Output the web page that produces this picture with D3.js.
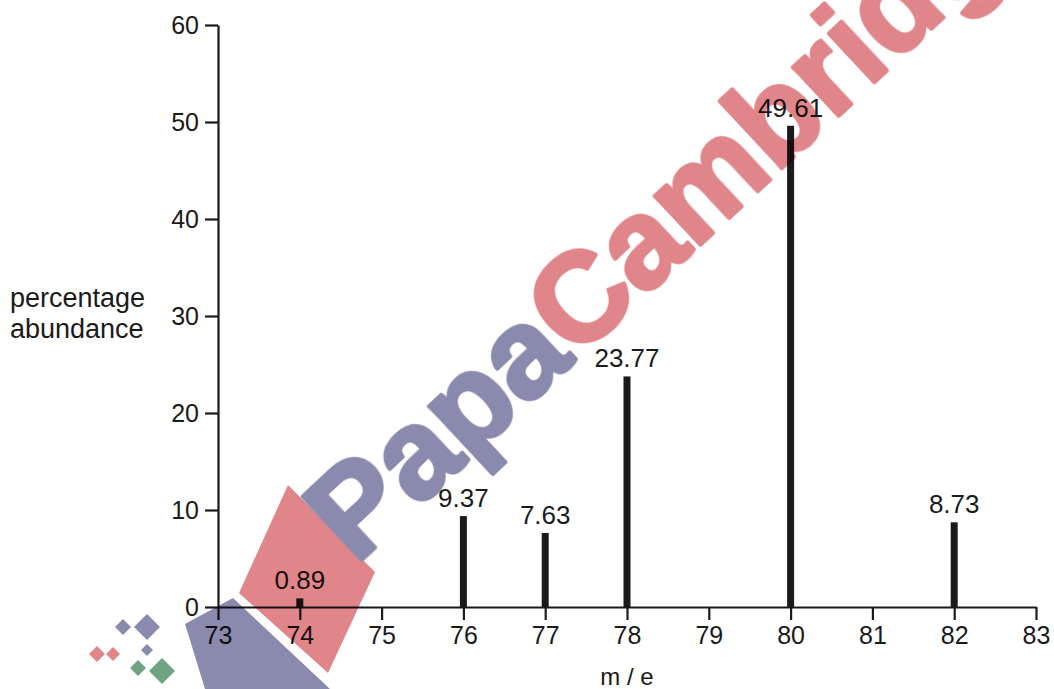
<!DOCTYPE html>
<html>
<head>
<meta charset="utf-8">
<script src="https://cdn.jsdelivr.net/npm/d3@7"></script>
<style>
  body { margin: 0; background: #fff; }
  svg { display: block; font-family: "Liberation Sans", Arial, sans-serif; }
  .axis path, .axis line { stroke: #1a1a1a; stroke-width: 2.2; }
  .axis text { fill: #1a1a1a; font-size: 25px; }
</style>
</head>
<body>
<div id="chart"></div>
<script>
// m/e values and their percentage abundance
const massNumbers = [74, 76, 77, 78, 80, 82];
const abundances = [0.89, 9.37, 7.63, 23.77, 49.61, 8.73];
const xTicks = [73, 74, 75, 76, 77, 78, 79, 80, 81, 82, 83];
const yTicks = [0, 10, 20, 30, 40, 50, 60];

const width = 1054, height = 689;
const margin = { top: 25, right: 18, bottom: 82, left: 218 };

const svg = d3.select('#chart').append('svg')
  .attr('width', width)
  .attr('height', height);

const x = d3.scaleLinear().domain([73, 83]).range([margin.left, width - margin.right]);
const y = d3.scaleLinear().domain([0, 60]).range([height - margin.bottom, margin.top]);

// axes
svg.append('g')
  .attr('class', 'axis')
  .attr('transform', `translate(0,${y(0)})`)
  .call(d3.axisBottom(x).tickValues(xTicks).tickSize(13).tickSizeOuter(0).tickPadding(6).tickFormat(d3.format('d')));

svg.append('g')
  .attr('class', 'axis')
  .attr('transform', `translate(${x(73)},0)`)
  .call(d3.axisLeft(y).tickValues(yTicks).tickSize(13).tickSizeOuter(0).tickPadding(6).tickFormat(d3.format('d')));

// the peaks
const peaks = massNumbers.map((m, i) => ({ m: m, v: abundances[i] }));

svg.selectAll('.peak')
  .data(peaks)
  .enter()
  .append('rect')
  .attr('class', 'peak')
  .attr('x', d => x(d.m) - 3.5)
  .attr('y', d => y(d.v))
  .attr('width', 7)
  .attr('height', d => y(0) - y(d.v))
  .attr('fill', '#1a1a1a');

svg.selectAll('.peak-label')
  .data(peaks)
  .enter()
  .append('text')
  .attr('class', 'peak-label')
  .attr('x', d => x(d.m))
  .attr('y', d => y(d.v) - 9)
  .attr('text-anchor', 'middle')
  .attr('fill', '#1a1a1a')
  .style('font-size', '26px')
  .text(d => d.v.toFixed(2));

// axis titles
svg.append('text')
  .attr('x', x(78))
  .attr('y', 685)
  .attr('text-anchor', 'middle')
  .attr('fill', '#1a1a1a')
  .style('font-size', '24px')
  .text('m / e');

const yTitle = svg.append('text')
  .attr('fill', '#1a1a1a')
  .style('font-size', '27px');
yTitle.append('tspan').attr('x', 10).attr('y', 307).text('percentage');
yTitle.append('tspan').attr('x', 10).attr('y', 338).text('abundance');

// watermark, multiplied over the chart
const wm = svg.append('g').style('mix-blend-mode', 'multiply');
const red = '#e0868b', blue = '#8a8aae', green = '#6fa382';

wm.append('polygon').attr('points', '288,485 375,572 328,673 239,593').attr('fill', red);
wm.append('polygon').attr('points', '233,598 330,689 205,689 190,640 185,624').attr('fill', blue);
const diamonds = [
  [123, 627, 8, blue], [147, 627, 13, blue], [147, 650, 6, blue],
  [97, 654, 8, red], [113, 654, 7, red],
  [138, 668, 8, green], [162, 671, 13, green]
];
diamonds.forEach(([cx, cy, r, c]) => {
  wm.append('polygon')
    .attr('points', `${cx},${cy - r} ${cx + r},${cy} ${cx},${cy + r} ${cx - r},${cy}`)
    .attr('fill', c);
});

const wmText = wm.append('text')
  .attr('transform', 'translate(356,566) rotate(-43)')
  .style('font-size', '126px')
  .style('font-weight', 'bold')
  .style('stroke-width', 4)
  .style('stroke-linejoin', 'round');
wmText.append('tspan').attr('fill', blue).attr('stroke', blue).text('Papa');
wmText.append('tspan').attr('fill', red).attr('stroke', red).text('Cambridge');
</script>
</body>
</html>
